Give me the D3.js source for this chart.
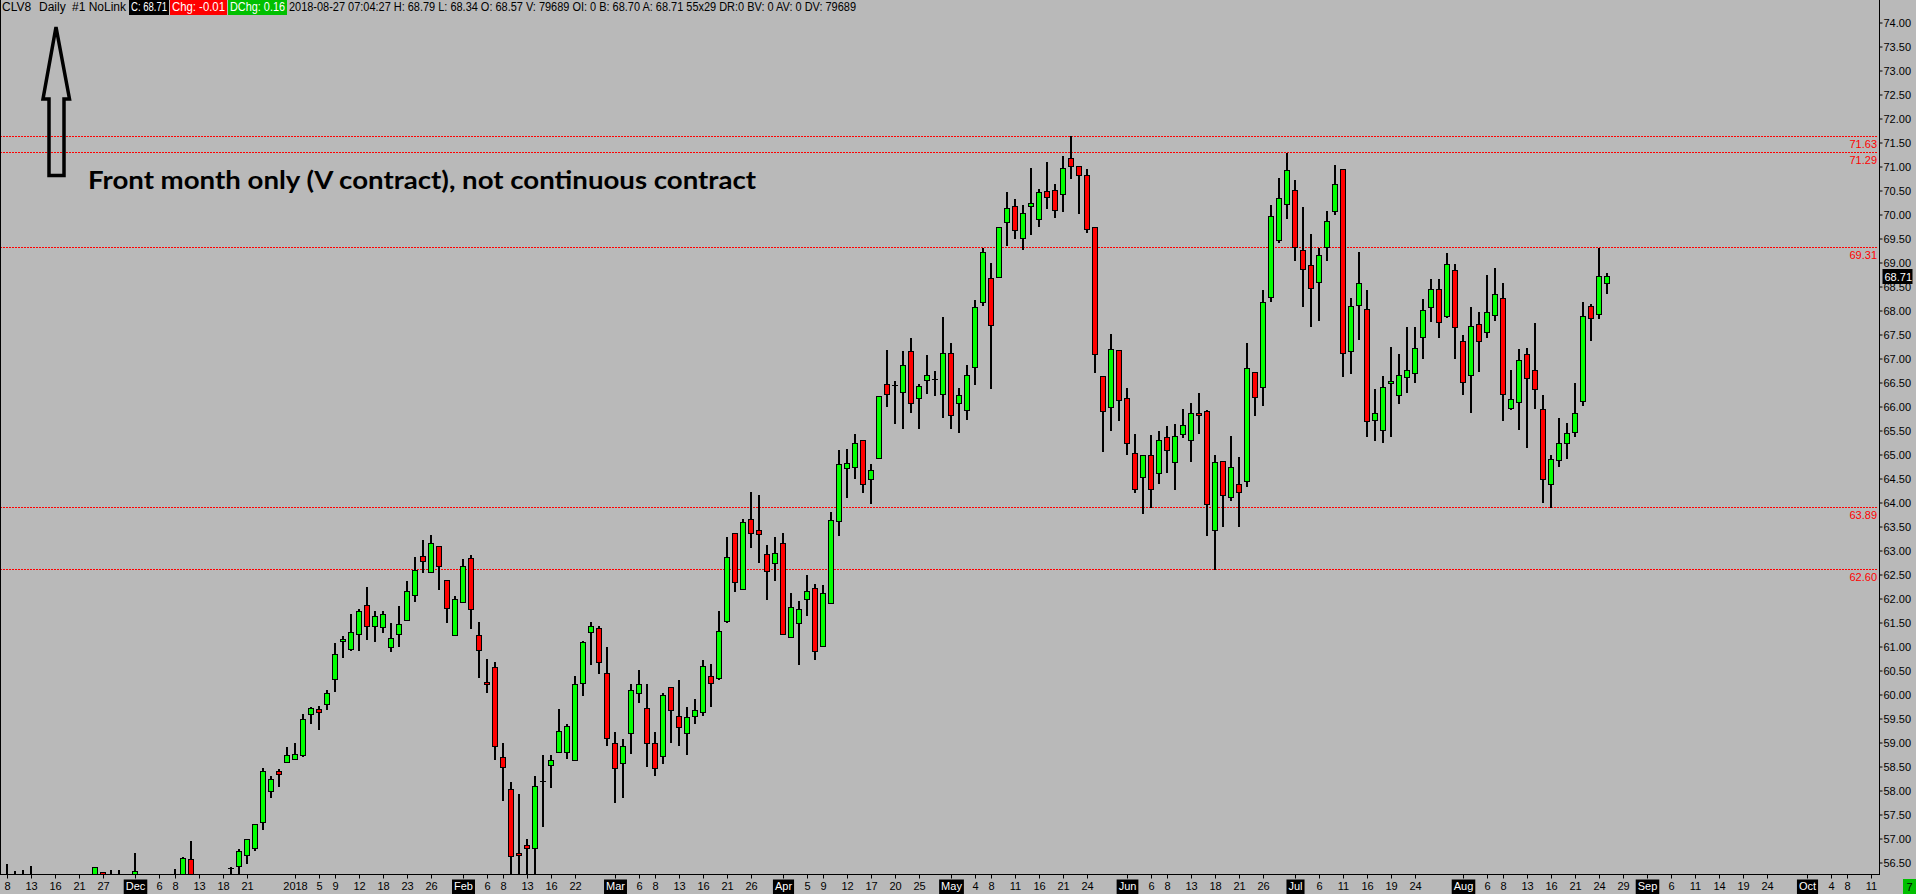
<!DOCTYPE html>
<html>
<head>
<meta charset="utf-8">
<script src="https://cdn.jsdelivr.net/npm/d3@7/dist/d3.min.js"></script>
<style>
  html, body { margin: 0; padding: 0; background: #b9b9b9; overflow: hidden; }
  svg { display: block; }
</style>
</head>
<body>
<svg id="chart" width="1916" height="894"></svg>
<script>
'use strict';

// CLV8 daily bars, 2017-11-08 .. 2018-08-27 (one value per trading day)
const opens = [
  55.9, 56.0, 55.9, 56.1, 56.0, 55.5, 55.3, 55.6, 55.9, 55.8,
  56.0, 55.9, 56.31, 55.8, 56.0, 55.8, 55.6, 56.2, 55.7, 55.5,
  55.4, 55.8, 56.0, 56.57, 56.0, 55.9, 55.7, 55.9, 56.36, 56.43,
  56.65, 56.80, 57.34, 58.00, 58.41, 58.60, 58.66, 58.75, 59.60, 59.69,
  59.80, 60.32, 61.11, 60.95, 61.27, 61.86, 61.42, 61.40, 60.99, 61.27,
  61.55, 62.07, 62.88, 62.55, 63.09, 62.38, 61.23, 61.92, 62.84, 61.25,
  60.27, 60.57, 58.69, 58.04, 56.69, 56.86, 56.80, 58.17, 58.53, 58.80,
  58.81, 58.63, 60.23, 61.30, 61.38, 60.44, 58.99, 58.57, 59.19, 60.04,
  59.71, 59.00, 58.71, 60.15, 59.55, 59.19, 59.55, 59.63, 60.38, 60.34,
  61.54, 63.36, 62.19, 63.65, 63.42, 62.92, 62.75, 63.15, 61.19, 61.50,
  62.00, 62.21, 61.02, 61.90, 63.61, 64.71, 64.73, 65.30, 64.50, 64.92,
  66.46, 66.42, 66.30, 67.15, 66.17, 66.55, 66.55, 66.27, 67.11, 66.07,
  65.92, 66.82, 68.17, 68.67, 68.69, 69.84, 70.17, 69.52, 70.17, 69.90,
  70.48, 70.50, 70.42, 71.17, 71.00, 70.82, 69.73, 66.63, 65.98, 67.17,
  66.17, 65.04, 64.54, 65.00, 64.61, 65.36, 64.84, 65.42, 65.31, 65.86,
  65.90, 63.42, 64.86, 64.11, 64.38, 64.44, 66.71, 66.40, 68.29, 69.46,
  70.21, 70.50, 69.27, 68.94, 68.59, 69.32, 70.07, 70.94, 67.15, 68.11,
  68.04, 65.71, 65.52, 66.50, 66.25, 66.61, 66.69, 67.44, 68.07, 68.44,
  67.88, 68.84, 67.36, 66.65, 67.71, 67.56, 67.90, 68.27, 65.96, 66.09,
  67.09, 66.77, 65.94, 64.38, 64.88, 65.23, 65.46, 66.11, 68.09, 67.92,
  68.57
];
const highs = [
  56.47, 56.33, 56.35, 56.43, 56.2, 55.9, 55.8, 56.1, 56.2, 56.2,
  56.25, 56.40, 56.31, 56.35, 56.35, 56.2, 56.70, 56.25, 56.1, 56.0,
  56.0, 56.36, 56.62, 56.95, 56.2, 56.2, 56.1, 56.2, 56.40, 56.78,
  57.00, 57.31, 58.47, 58.31, 58.44, 58.91, 58.99, 59.59, 59.73, 59.77,
  60.09, 61.07, 61.21, 61.68, 61.79, 62.24, 61.74, 61.74, 61.49, 61.84,
  62.36, 62.86, 63.22, 63.32, 63.10, 62.39, 62.05, 62.82, 62.91, 61.51,
  60.74, 60.67, 58.99, 58.17, 57.93, 56.99, 58.30, 58.74, 58.74, 59.69,
  59.39, 60.38, 61.11, 61.51, 61.42, 60.98, 59.21, 59.07, 60.21, 60.52,
  60.21, 59.21, 60.03, 60.15, 60.30, 59.75, 59.90, 60.71, 60.63, 61.73,
  63.28, 63.36, 63.65, 64.21, 64.15, 63.11, 63.28, 63.36, 62.11, 61.94,
  62.50, 62.30, 62.28, 63.80, 65.09, 65.11, 65.42, 65.31, 64.80, 66.21,
  67.17, 66.54, 67.15, 67.42, 66.46, 67.08, 66.75, 67.86, 67.32, 66.38,
  66.86, 68.21, 69.30, 68.98, 69.73, 70.46, 70.32, 70.19, 70.96, 70.54,
  71.09, 70.63, 71.21, 71.63, 71.01, 70.94, 69.74, 66.64, 67.52, 67.18,
  66.38, 65.42, 65.00, 65.40, 65.48, 65.59, 65.63, 65.94, 66.07, 66.29,
  65.92, 65.00, 64.87, 65.38, 64.94, 67.32, 66.72, 68.42, 70.19, 70.77,
  71.29, 70.71, 70.15, 69.59, 69.30, 70.07, 71.04, 70.95, 68.27, 69.21,
  68.42, 66.36, 66.63, 67.23, 67.09, 67.65, 67.65, 68.23, 68.65, 68.65,
  69.19, 68.96, 67.48, 68.07, 67.96, 68.73, 68.88, 68.57, 66.77, 67.19,
  67.21, 67.73, 66.23, 64.98, 65.77, 65.65, 66.50, 68.17, 68.13, 69.31,
  68.79
];
const lows = [
  55.6, 55.7, 55.6, 55.8, 55.4, 55.1, 55.0, 55.4, 55.5, 55.5,
  55.6, 55.7, 55.6, 55.5, 55.6, 55.3, 55.4, 55.5, 55.2, 55.0,
  55.1, 55.6, 55.8, 55.8, 55.6, 55.5, 55.4, 55.6, 55.9, 56.25,
  56.46, 56.73, 57.18, 57.85, 58.08, 58.57, 58.65, 58.70, 59.39, 59.26,
  59.68, 60.06, 60.77, 60.91, 60.91, 61.14, 61.10, 61.29, 60.89, 61.00,
  61.55, 61.92, 62.53, 62.53, 62.18, 61.48, 61.23, 61.92, 61.37, 60.35,
  60.04, 58.64, 57.79, 56.10, 56.15, 56.20, 56.20, 57.25, 58.05, 58.80,
  58.66, 58.63, 59.96, 60.62, 60.43, 58.93, 57.73, 57.85, 58.77, 59.83,
  58.50, 58.31, 58.56, 58.98, 58.93, 58.73, 59.38, 59.55, 59.73, 60.30,
  61.50, 62.13, 62.19, 63.05, 62.73, 61.96, 62.36, 61.25, 61.19, 60.61,
  61.63, 60.71, 61.02, 61.90, 63.30, 64.09, 64.48, 64.19, 63.96, 64.90,
  66.00, 65.63, 65.54, 65.86, 65.54, 66.27, 66.21, 65.77, 65.54, 65.44,
  65.71, 66.44, 68.09, 66.36, 68.69, 69.34, 69.48, 69.27, 69.57, 69.73,
  70.11, 69.92, 70.06, 70.73, 70.02, 69.61, 66.69, 65.06, 65.48, 65.69,
  65.00, 64.19, 63.77, 63.88, 64.38, 64.61, 64.27, 65.34, 64.84, 65.42,
  63.30, 62.60, 63.50, 64.04, 63.50, 64.32, 65.81, 66.02, 68.17, 69.40,
  69.90, 69.04, 68.07, 67.65, 67.79, 69.04, 69.98, 66.61, 66.67, 67.38,
  65.36, 65.29, 65.25, 65.36, 66.06, 66.29, 66.48, 67.00, 67.77, 67.42,
  67.84, 67.00, 66.23, 65.86, 66.71, 67.42, 67.79, 65.69, 65.92, 65.52,
  65.13, 65.94, 63.98, 63.89, 64.73, 64.90, 65.36, 66.02, 67.36, 67.82,
  68.34
];
const closes = [
  56.1, 55.9, 56.1, 56.0, 55.5, 55.3, 55.6, 55.9, 55.8, 56.0,
  55.9, 56.40, 55.8, 56.0, 55.8, 55.6, 56.32, 55.7, 55.5, 55.4,
  55.8, 56.1, 56.6, 56.0, 55.9, 55.7, 55.9, 56.0, 56.38, 56.75,
  56.98, 57.30, 58.41, 58.25, 58.34, 58.75, 58.77, 59.48, 59.71, 59.63,
  60.03, 60.84, 61.15, 61.30, 61.75, 61.42, 61.63, 61.67, 61.17, 61.46,
  62.15, 62.59, 62.78, 63.15, 62.67, 61.81, 62.00, 62.68, 61.79, 60.92,
  60.21, 58.92, 58.50, 56.63, 56.65, 56.80, 58.09, 58.19, 58.63, 59.25,
  59.34, 60.21, 61.09, 61.42, 60.67, 59.09, 58.46, 58.92, 60.09, 60.21,
  59.00, 58.46, 59.98, 59.67, 59.32, 59.53, 59.67, 60.59, 60.23, 61.32,
  62.86, 62.34, 63.59, 63.36, 63.34, 62.57, 62.94, 61.27, 61.82, 61.78,
  62.15, 60.90, 62.11, 63.63, 64.80, 64.82, 65.25, 64.38, 64.67, 66.21,
  66.27, 66.44, 66.86, 66.07, 66.42, 66.65, 66.57, 67.11, 65.82, 66.25,
  66.65, 68.07, 69.21, 67.69, 69.73, 70.13, 69.67, 70.04, 70.23, 70.46,
  70.36, 70.09, 70.96, 71.02, 70.82, 69.69, 67.09, 65.90, 67.19, 66.13,
  65.25, 64.29, 64.98, 64.29, 65.31, 65.09, 65.38, 65.61, 65.86, 65.82,
  63.96, 64.84, 64.15, 64.75, 64.21, 66.81, 66.19, 68.17, 69.96, 70.34,
  70.92, 69.32, 68.86, 68.46, 69.15, 69.86, 70.63, 67.11, 68.09, 68.57,
  65.69, 65.86, 66.40, 66.54, 66.65, 66.77, 67.21, 68.02, 68.44, 67.75,
  68.96, 67.65, 66.52, 67.67, 67.36, 67.96, 68.34, 66.27, 66.15, 66.96,
  66.59, 66.36, 64.48, 64.90, 65.23, 65.44, 65.86, 67.88, 67.84, 68.72,
  68.71
];

// calendar: first bar, last slot drawn on the axis, exchange holidays
const startDate = '2017-11-08';
const endDate = '2018-10-12';
const holidays = [
  '2017-11-23', '2017-12-25', '2018-01-01', '2018-01-15',
  '2018-02-19', '2018-03-30', '2018-05-28', '2018-07-04',
];

// dates that carry a label on the time axis
const tickDates = [
  '2017-11-08', '2017-11-13', '2017-11-16', '2017-11-21', '2017-11-27',
  '2017-12-01', '2017-12-06', '2017-12-08', '2017-12-13', '2017-12-18', '2017-12-21',
  '2018-01-02', '2018-01-05', '2018-01-09', '2018-01-12', '2018-01-18', '2018-01-23', '2018-01-26',
  '2018-02-01', '2018-02-06', '2018-02-08', '2018-02-13', '2018-02-16', '2018-02-22',
  '2018-03-01', '2018-03-06', '2018-03-08', '2018-03-13', '2018-03-16', '2018-03-21', '2018-03-26',
  '2018-04-02', '2018-04-05', '2018-04-09', '2018-04-12', '2018-04-17', '2018-04-20', '2018-04-25',
  '2018-05-01', '2018-05-04', '2018-05-08', '2018-05-11', '2018-05-16', '2018-05-21', '2018-05-24',
  '2018-06-01', '2018-06-06', '2018-06-08', '2018-06-13', '2018-06-18', '2018-06-21', '2018-06-26',
  '2018-07-02', '2018-07-06', '2018-07-11', '2018-07-16', '2018-07-19', '2018-07-24',
  '2018-08-01', '2018-08-06', '2018-08-08', '2018-08-13', '2018-08-16', '2018-08-21', '2018-08-24', '2018-08-29',
  '2018-09-03', '2018-09-06', '2018-09-11', '2018-09-14', '2018-09-19', '2018-09-24',
  '2018-10-01', '2018-10-04', '2018-10-08', '2018-10-11',
];

// horizontal levels drawn by hand on the chart
const levels = [71.63, 71.29, 69.31, 63.89, 62.60];

const priceTicks = d3.range(56.5, 74.01, 0.5);
const lastPrice = 68.71;

const headerText = '2018-08-27 07:04:27 H: 68.79 L: 68.34 O: 68.57 V: 79689 OI: 0 B: 68.70 A: 68.71 55x29 DR:0 BV: 0 AV: 0 DV: 79689';
const noteText = 'Front month only (V contract), not continuous contract';

const plotRight = 1879;
const plotBottom = 874;
const FONT = '"Liberation Sans", Arial, sans-serif';
const GREEN = '#00ff00';
const RED = '#ff0000';

const parse = d3.utcParse('%Y-%m-%d');
const fmt = d3.utcFormat('%Y-%m-%d');

const buildSlots = () => {
  const out = [];
  const end = parse(endDate);
  let d = parse(startDate);
  while (d <= end) {
    const dow = d.getUTCDay();
    const key = fmt(d);
    if (dow !== 0 && dow !== 6 && !holidays.includes(key)) {
      out.push(key);
    }
    d = d3.utcDay.offset(d, 1);
  }
  return out;
};

const slots = buildSlots();

const bars = closes.map((c, i) => ({
  date: slots[i],
  open: opens[i],
  high: highs[i],
  low: lows[i],
  close: c,
}));

const x = d3
  .scalePoint()
  .domain(slots)
  .range([7, 7 + 8 * (slots.length - 1)]);

const y = d3.scaleLinear().domain([74, 56.5]).range([22.5, 862.5]);

const svg = d3.select('#chart');

svg
  .append('defs')
  .append('clipPath')
  .attr('id', 'plot-clip')
  .append('rect')
  .attr('x', 0)
  .attr('y', 0)
  .attr('width', plotRight)
  .attr('height', plotBottom);

// level lines (dotted red) with their labels
const levelY = (d) => Math.floor(y(d)) + 0.5;
const levelG = svg.append('g');
levelG
  .selectAll('line')
  .data(levels)
  .join('line')
  .attr('x1', 0)
  .attr('x2', plotRight - 2)
  .attr('y1', levelY)
  .attr('y2', levelY)
  .attr('stroke', RED)
  .attr('stroke-width', 1)
  .attr('stroke-dasharray', '2,1')
  .attr('shape-rendering', 'crispEdges');
levelG
  .selectAll('text')
  .data(levels)
  .join('text')
  .attr('x', plotRight - 2)
  .attr('y', (d) => levelY(d) + 11.5)
  .attr('text-anchor', 'end')
  .attr('fill', RED)
  .style('font', `11px ${FONT}`)
  .text((d) => d.toFixed(2));

// candles
const candles = svg
  .append('g')
  .attr('clip-path', 'url(#plot-clip)')
  .selectAll('g')
  .data(bars)
  .join('g');

candles
  .append('rect')
  .attr('x', (d) => x(d.date) - 1)
  .attr('width', 2)
  .attr('y', (d) => Math.round(y(d.high)))
  .attr('height', (d) => Math.max(1, Math.round(y(d.low)) - Math.round(y(d.high))))
  .attr('fill', '#000');

const isDoji = (d) => Math.abs(d.close - d.open) < 0.03;

candles
  .filter((d) => !isDoji(d))
  .append('rect')
  .attr('x', (d) => x(d.date) - 2.5)
  .attr('width', 5)
  .attr('y', (d) => Math.round(y(Math.max(d.open, d.close))) + 0.5)
  .attr('height', (d) =>
    Math.max(1, Math.round(y(Math.min(d.open, d.close))) - Math.round(y(Math.max(d.open, d.close))))
  )
  .attr('fill', (d) => (d.close >= d.open ? GREEN : RED))
  .attr('stroke', '#000')
  .attr('stroke-width', 1);

candles
  .filter(isDoji)
  .append('line')
  .attr('x1', (d) => x(d.date) - 3)
  .attr('x2', (d) => x(d.date) + 3)
  .attr('y1', (d) => Math.round(y(d.close)) + 0.5)
  .attr('y2', (d) => Math.round(y(d.close)) + 0.5)
  .attr('stroke', '#000')
  .attr('stroke-width', 1);

// frame
const frame = svg.append('g').attr('stroke', '#000').attr('stroke-width', 1);
frame.append('line').attr('x1', 0.5).attr('x2', 0.5).attr('y1', 0).attr('y2', plotBottom);
frame
  .append('line')
  .attr('x1', 0)
  .attr('x2', plotRight + 1)
  .attr('y1', plotBottom + 0.5)
  .attr('y2', plotBottom + 0.5);
frame
  .append('line')
  .attr('x1', plotRight + 0.5)
  .attr('x2', plotRight + 0.5)
  .attr('y1', 0)
  .attr('y2', plotBottom + 1);

// price axis
const yAxis = svg
  .append('g')
  .attr('transform', `translate(${plotRight + 0.5},0)`)
  .call(
    d3
      .axisRight(y)
      .tickValues(priceTicks)
      .tickFormat(d3.format('.2f'))
      .tickSize(3)
      .tickPadding(1)
  );
yAxis.select('.domain').remove();
yAxis.selectAll('line').attr('stroke', '#000');
yAxis
  .selectAll('text')
  .attr('fill', '#000')
  .style('font', `11px ${FONT}`);

// last price marker
const lastG = svg.append('g').attr('transform', `translate(1882.5,${Math.round(y(lastPrice)) - 7})`);
lastG.append('rect').attr('width', 30).attr('height', 15).attr('fill', '#000');
lastG
  .append('text')
  .attr('x', 2)
  .attr('y', 11.5)
  .attr('fill', '#fff')
  .style('font', `11px ${FONT}`)
  .text(lastPrice.toFixed(2));

// time axis
const tickLabel = (key) => {
  const i = slots.indexOf(key);
  const d = parse(key);
  const monthStart = i > 0 && parse(slots[i - 1]).getUTCMonth() !== d.getUTCMonth();
  if (!monthStart) {
    return String(d.getUTCDate());
  }
  return d.getUTCMonth() === 0 ? d3.utcFormat('%Y')(d) : d3.utcFormat('%b')(d);
};

const xAxis = svg
  .append('g')
  .attr('transform', `translate(0,${plotBottom + 0.5})`)
  .call(d3.axisBottom(x).tickValues(tickDates).tickFormat(tickLabel).tickSize(4).tickPadding(4));
xAxis.select('.domain').remove();
xAxis.selectAll('line').attr('stroke', '#000');
xAxis
  .selectAll('text')
  .attr('fill', '#000')
  .style('font', `11px ${FONT}`);

xAxis
  .selectAll('.tick')
  .filter((d) => isNaN(+tickLabel(d)))
  .each(function() {
    const t = d3.select(this).select('text');
    const w = t.node().getComputedTextLength();
    d3.select(this)
      .insert('rect', 'text')
      .attr('x', -w / 2 - 2)
      .attr('y', 5)
      .attr('width', w + 4)
      .attr('height', 15)
      .attr('fill', '#000');
    t.attr('fill', '#fff');
  });

// bar-timer box, bottom right
svg.append('rect').attr('x', 1903).attr('y', 879).attr('width', 13).attr('height', 15).attr('fill', '#00c000');
svg
  .append('text')
  .attr('x', 1909.5)
  .attr('y', 891)
  .attr('text-anchor', 'middle')
  .attr('fill', '#000')
  .style('font', `11px ${FONT}`)
  .text('7');

// header line
const header = svg.append('g').style('font', `12px ${FONT}`);
const plainParts = [
  { t: 'CLV8', x: 2 },
  { t: 'Daily', x: 39 },
  { t: '#1 NoLink', x: 72 },
];
header
  .selectAll('text.plain')
  .data(plainParts)
  .join('text')
  .attr('class', 'plain')
  .attr('x', (d) => d.x)
  .attr('y', 11)
  .attr('fill', '#000')
  .text((d) => d.t);

const boxes = [
  { t: 'C: 68.71', x: 129, w: 40, bg: '#000' },
  { t: 'Chg: -0.01', x: 170, w: 57, bg: '#ff0000' },
  { t: 'DChg: 0.16', x: 228, w: 59, bg: '#00c000' },
];
const boxG = header.selectAll('g.box').data(boxes).join('g').attr('class', 'box');
boxG
  .append('rect')
  .attr('x', (d) => d.x)
  .attr('y', 0)
  .attr('width', (d) => d.w)
  .attr('height', 15)
  .attr('fill', (d) => d.bg);
boxG
  .append('text')
  .attr('x', (d) => d.x + 2)
  .attr('y', 11)
  .attr('fill', '#fff')
  .attr('textLength', (d) => d.w - 4)
  .attr('lengthAdjust', 'spacingAndGlyphs')
  .text((d) => d.t);

header
  .append('text')
  .attr('x', 289)
  .attr('y', 11)
  .attr('fill', '#000')
  .attr('textLength', 567)
  .attr('lengthAdjust', 'spacingAndGlyphs')
  .text(headerText);

// hand-drawn annotation: hollow arrow and note
const arrowPts = [[56, 27], [69.5, 99], [64, 99], [64, 175.5], [49, 175.5], [49, 99], [43, 99]];
svg
  .append('path')
  .attr('d', d3.line()(arrowPts) + 'Z')
  .attr('fill', 'none')
  .attr('stroke', '#000')
  .attr('stroke-width', 3.5)
  .attr('stroke-linejoin', 'miter');

svg
  .append('text')
  .attr('x', 88)
  .attr('y', 189)
  .attr('fill', '#000')
  .attr('textLength', 668)
  .attr('lengthAdjust', 'spacingAndGlyphs')
  .style('font', 'bold 25px Lato, "Open Sans", sans-serif')
  .text(noteText);
</script>
</body>
</html>
